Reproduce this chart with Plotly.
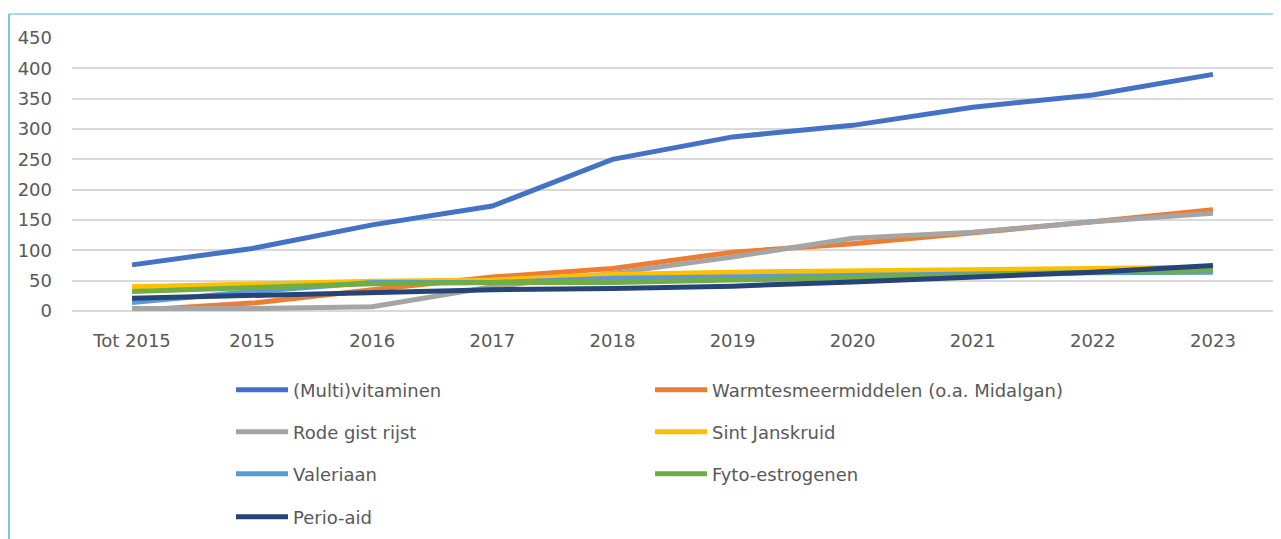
import plotly.graph_objects as go

categories = ["Tot 2015", "2015", "2016", "2017", "2018", "2019", "2020", "2021", "2022", "2023"]

multivitaminen = [76, 103, 142, 173, 250, 287, 306, 336, 356, 390]
warmtesmeer = [1, 13, 35, 56, 70, 97, 111, 128, 147, 167]
rode_gist = [4, 4, 7, 40, 62, 89, 120, 130, 147, 161]
sint_janskruid = [40, 45, 49, 51, 60, 64, 66, 68, 70, 72]
valeriaan = [14, 32, 47, 47, 54, 57, 59, 61, 63, 64]
fyto = [32, 39, 45, 47, 47, 51, 55, 60, 64, 68]
perio_aid = [21, 26, 32, 35, 37, 41, 48, 56, 64, 75]

series = [
    ("(Multi)vitaminen", multivitaminen, "#4472C4", "legend"),
    ("Warmtesmeermiddelen (o.a. Midalgan)", warmtesmeer, "#ED7D31", "legend"),
    ("Rode gist rijst", rode_gist, "#A5A5A5", "legend2"),
    ("Sint Janskruid", sint_janskruid, "#FFC000", "legend2"),
    ("Valeriaan", valeriaan, "#5B9BD5", "legend3"),
    ("Fyto-estrogenen", fyto, "#70AD47", "legend3"),
    ("Perio-aid", perio_aid, "#264478", "legend4"),
]

FONT = "DejaVu Sans"
TXT = "#595959"

fig = go.Figure()
for name, vals, color, leg in series:
    fig.add_trace(go.Scatter(
        x=categories, y=vals, name=name, mode="lines",
        line=dict(color=color, width=5),
        legend=leg,
    ))

# page has an 8px body margin: screen = figure + 8
OFF = 8
W, H = 1281 - OFF, 539 - OFF
# plot area on screen: x 72..1273, y 38..311
L = 72 - OFF
R = W - (1273 - OFF)
T = 38 - OFF
B = H - (311 - OFF)
plot_h = H - T - B
plot_w = W - L - R

def py(screen_y):
    return ((311 - OFF) - (screen_y - OFF)) / plot_h

def px(screen_x):
    return ((screen_x - OFF) - L) / plot_w

def cx(screen_x):
    return (screen_x - OFF) / W

def cy(screen_y):
    return 1 - (screen_y - OFF) / H

leg_common = dict(orientation="h", entrywidth=352, entrywidthmode="pixels",
                  itemwidth=52,
                  font=dict(family=FONT, size=18, color=TXT),
                  bgcolor="rgba(0,0,0,0)", yanchor="middle", xanchor="left",
                  xref="container", yref="container",
                  x=cx(231), itemclick=False, itemdoubleclick=False)

layout_legends = {}
for i, ys in enumerate([390, 432, 474, 517]):
    key = "legend" if i == 0 else f"legend{i+1}"
    layout_legends[key] = dict(leg_common, y=cy(ys))

fig.update_layout(
    width=W, height=H,
    margin=dict(l=L, r=R, t=T, b=B),
    paper_bgcolor="white", plot_bgcolor="white",
    font=dict(family=FONT, size=18, color=TXT),
    showlegend=True,
    **layout_legends,
)

fig.update_xaxes(
    type="category", showgrid=False, showline=False, zeroline=False,
    tickfont=dict(family=FONT, size=18, color=TXT),
    ticklabelstandoff=17, automargin=False,
    range=[-0.5, 9.5],
)
fig.update_yaxes(
    range=[0, 450], dtick=50, showgrid=True, gridcolor="#D9D9D9", gridwidth=1.5,
    zeroline=True, zerolinecolor="#D9D9D9", zerolinewidth=1.5, showline=False,
    tickfont=dict(family=FONT, size=18, color=TXT),
    ticklabelstandoff=19, automargin=False,
)

# light blue frame (top and left edges visible)
fig.add_shape(type="line", xref="paper", yref="paper",
              x0=px(9), x1=px(1300), y0=py(14), y1=py(14),
              line=dict(color="#8CCBEA", width=1.5))
fig.add_shape(type="line", xref="paper", yref="paper",
              x0=px(9), x1=px(9), y0=py(14), y1=py(560),
              line=dict(color="#5AAEE0", width=1.5))

fig.write_html("out.html")
